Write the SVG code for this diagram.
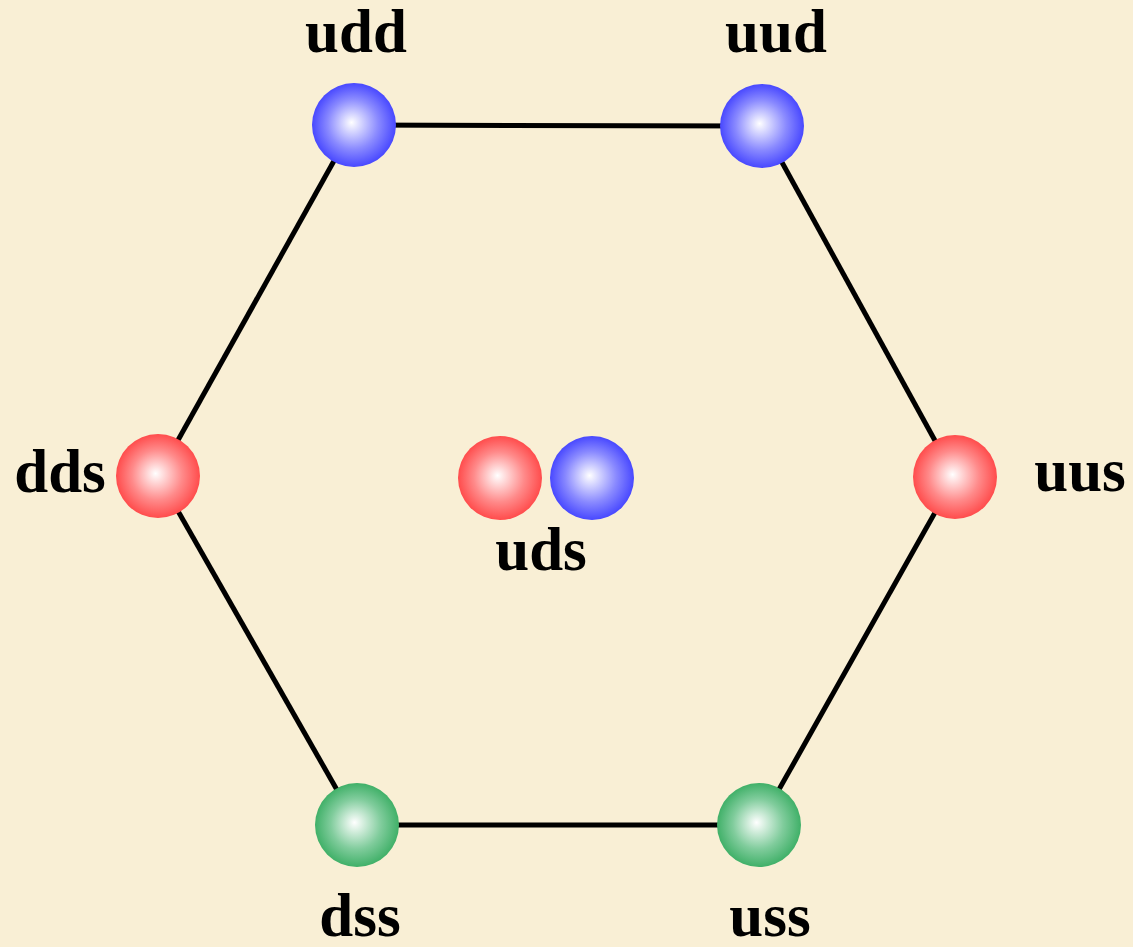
<svg xmlns="http://www.w3.org/2000/svg" width="1133" height="947" viewBox="0 0 1133 947">
<style>
.lbl{font-family:"Liberation Serif","Times New Roman",serif;font-weight:bold;font-size:61px;fill:#000;text-anchor:middle}
.edge{stroke:#000;stroke-width:5;fill:none}
</style>
<defs>
<radialGradient id="gr" cx="0.5" cy="0.5" r="0.5" fx="0.47" fy="0.47">
<stop offset="0" stop-color="#ffffff"/><stop offset="0.6" stop-color="#ff8a8a"/><stop offset="1" stop-color="#ff4c4c"/>
</radialGradient>
<radialGradient id="gb" cx="0.5" cy="0.5" r="0.5" fx="0.47" fy="0.47">
<stop offset="0" stop-color="#ffffff"/><stop offset="0.6" stop-color="#8a8aff"/><stop offset="1" stop-color="#4848ff"/>
</radialGradient>
<radialGradient id="gg" cx="0.5" cy="0.5" r="0.5" fx="0.47" fy="0.47">
<stop offset="0" stop-color="#ffffff"/><stop offset="0.6" stop-color="#80cc9c"/><stop offset="1" stop-color="#40b068"/>
</radialGradient>
</defs>
<rect width="1133" height="947" fill="#f9efd5"/>
<g id="connectors">
<line class="edge" x1="354" y1="125" x2="762" y2="126"/>
<line class="edge" x1="762" y1="126" x2="955" y2="477"/>
<line class="edge" x1="955" y1="477" x2="759" y2="825"/>
<line class="edge" x1="759" y1="825" x2="357" y2="825"/>
<line class="edge" x1="357" y1="825" x2="158" y2="476"/>
<line class="edge" x1="158" y1="476" x2="354" y2="125"/>
</g>
<g id="udd"><circle cx="354" cy="125" r="42" fill="url(#gb)"/><text class="lbl" x="356" y="52">udd</text></g>
<g id="uud"><circle cx="762" cy="126" r="42" fill="url(#gb)"/><text class="lbl" x="776" y="52">uud</text></g>
<g id="dds"><circle cx="158" cy="476" r="42" fill="url(#gr)"/><text class="lbl" x="60" y="492">dds</text></g>
<g id="uus"><circle cx="955" cy="477" r="42" fill="url(#gr)"/><text class="lbl" x="1080" y="491">uus</text></g>
<g id="dss"><circle cx="357" cy="825" r="42" fill="url(#gg)"/><text class="lbl" x="360" y="936">dss</text></g>
<g id="uss"><circle cx="759" cy="825" r="42" fill="url(#gg)"/><text class="lbl" x="770" y="936">uss</text></g>
<g id="uds"><circle cx="500" cy="478" r="42" fill="url(#gr)"/><circle cx="592" cy="478" r="42" fill="url(#gb)"/><text class="lbl" x="541" y="570">uds</text></g>
</svg>
